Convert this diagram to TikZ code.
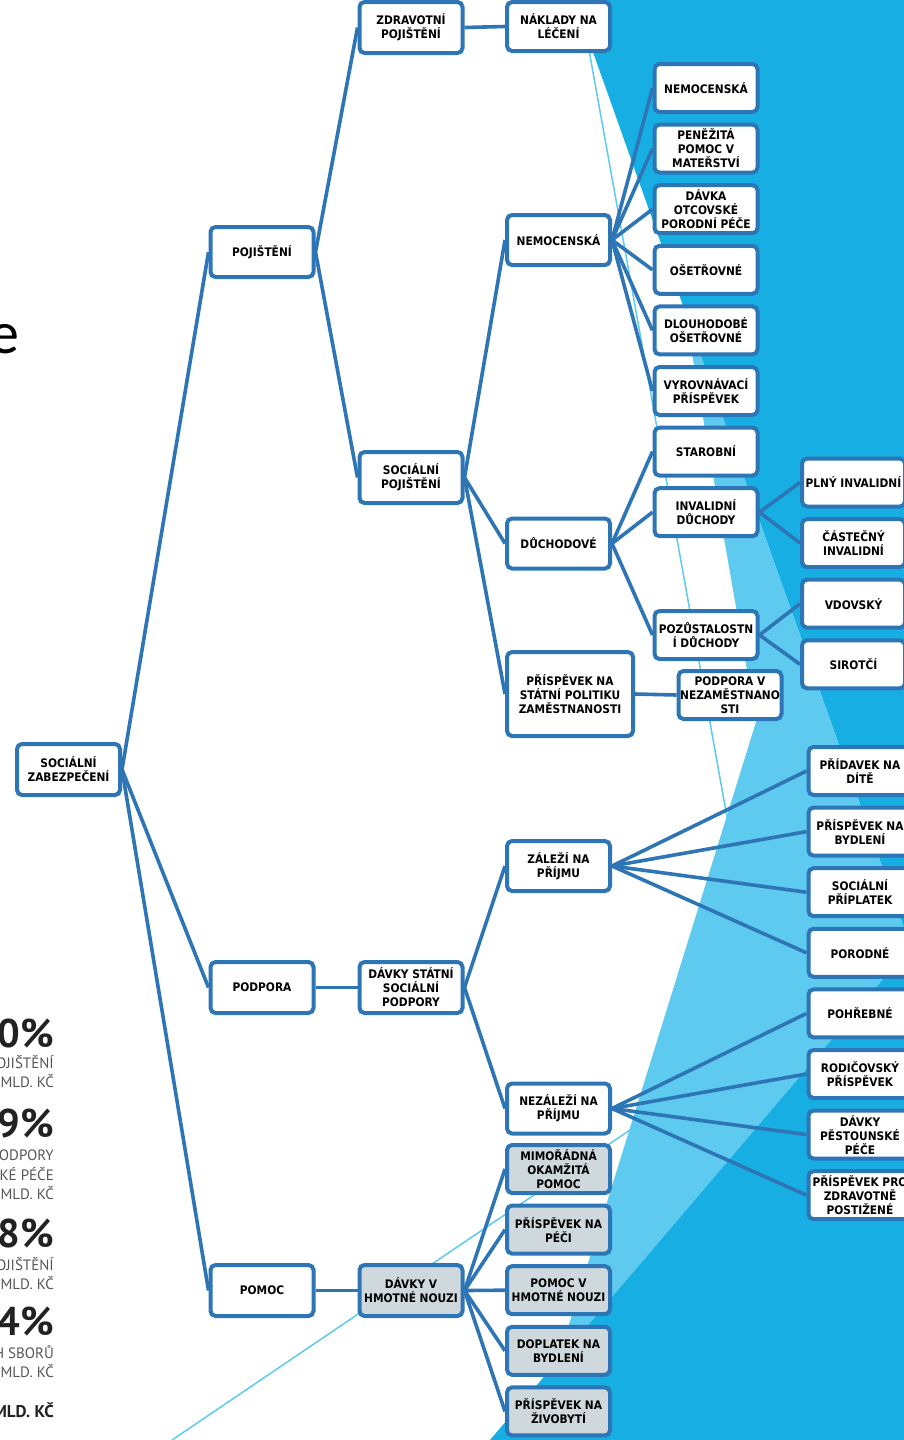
\documentclass[tikz,border=0pt]{standalone}
\usepackage{fontspec}
\usepackage{tikz}
\newfontfamily\boxfont{DejaVu Sans Condensed}
\newfontfamily\slidefont{Carlito}
\newfontfamily\statfont{PT Sans}
\definecolor{BoxBlue}{RGB}{46,117,182}
\definecolor{FacetBlue}{RGB}{23,175,227}
\definecolor{FacetLightBlue}{RGB}{94,202,239}
\definecolor{NeedGray}{RGB}{207,216,221}
\definecolor{StatGray}{RGB}{85,85,85}
\definecolor{StatDark}{RGB}{34,34,34}
\usetikzlibrary{positioning}

\begin{document}
\begin{tikzpicture}[
		x=1pt, y=-1pt,
		node distance=8.6pt,
		entry/.style={draw=BoxBlue, line width=4pt, rounded corners=5pt, fill=white, align=center, inner sep=1pt,
			font=\boxfont\bfseries\fontsize{11.8}{14}\selectfont, minimum width=103pt, minimum height=48pt},
		shaded/.style={entry, fill=NeedGray},
		branch/.style={draw=BoxBlue, line width=3.6pt},
		stat/.style={anchor=base east, inner sep=0pt, text=StatGray, font=\statfont\fontsize{15}{15}\selectfont},
		percent/.style={stat, text=StatDark, font=\statfont\bfseries\fontsize{40}{40}\selectfont}
	]
		\useasboundingbox (0,0) rectangle (904,1440);
		
		\fill[FacetBlue] (574.5,0) -- (904,0) -- (904,928) -- cycle;
		\fill[FacetLightBlue] (684,308) -- (756,722) -- (558,1360) -- (904,954.5) -- (904,928) -- cycle;
		\fill[FacetBlue] (490,1440) -- (904,1440) -- (904,954.5) -- cycle;
		\draw[FacetLightBlue, line width=1.5pt] (580,0) -- (727,817);
		\draw[FacetLightBlue, line width=1.5pt] (172,1440) -- (630,1130);
		
		\node[anchor=base east, inner sep=0pt, font=\slidefont\fontsize{60}{60}\selectfont] (titletail) at (20,353) {e};
		
		\node[percent] (share1) at (54,1047) {0\%};
		\node[stat] (share1a) at (54,1068) {OJIŠTĚNÍ};
		\node[stat] (share1b) at (54,1087) {MLD. KČ};
		\node[percent] (share2) at (54,1137) {9\%};
		\node[stat] (share2a) at (54,1160) {ODPORY};
		\node[stat] (share2b) at (54,1180) {KÉ PÉČE};
		\node[stat] (share2c) at (54,1199) {MLD. KČ};
		\node[percent] (share3) at (54,1247) {8\%};
		\node[stat] (share3a) at (54,1270) {OJIŠTĚNÍ};
		\node[stat] (share3b) at (54,1289) {MLD. KČ};
		\node[percent] (share4) at (54,1335) {4\%};
		\node[stat] (share4a) at (54,1358) {H SBORŮ};
		\node[stat] (share4b) at (54,1377) {MLD. KČ};
		\node[stat, text=StatDark, font=\statfont\bfseries\fontsize{17}{17}\selectfont] (sharetotal) at (54,1417) {MLD. KČ};
		
		\node[entry, minimum height=51pt] (socialsecurity) at (68.5,769.5) {SOCIÁLNÍ\\ZABEZPEČENÍ};
		
		\node[entry, minimum height=50pt] (insurance) at (262,252) {POJIŠTĚNÍ};
		\node[entry, minimum height=51pt] (support) at (262,987.5) {PODPORA};
		\node[entry, minimum height=51pt] (help) at (262,1290.5) {POMOC};
		
		\node[entry, minimum height=51pt] (healthins) at (411,27.5) {ZDRAVOTNÍ\\POJIŠTĚNÍ};
		\node[entry, minimum height=51pt] (socialins) at (411,477.5) {SOCIÁLNÍ\\POJIŠTĚNÍ};
		\node[entry, minimum height=51pt] (statesupport) at (411,987.5) {DÁVKY STÁTNÍ\\SOCIÁLNÍ\\PODPORY};
		\node[shaded, minimum height=51pt] (materialneed) at (411,1290.5) {DÁVKY V\\HMOTNÉ NOUZI};
		
		\node[entry, minimum height=49pt] (treatment) at (558.5,26.5) {NÁKLADY NA\\LÉČENÍ};
		\node[entry, minimum height=50pt] (sickness) at (558.5,240) {NEMOCENSKÁ};
		\node[entry, minimum height=50pt] (pensions) at (558.5,543.5) {DŮCHODOVÉ};
		\node[entry, minimum width=126pt, minimum height=84pt] (employment) at (570,694) {PŘÍSPĚVEK NA\\STÁTNÍ POLITIKU\\ZAMĚSTNANOSTI};
		\node[entry, minimum height=50pt] (incomedep) at (558.5,866) {ZÁLEŽÍ NA\\PŘÍJMU};
		\node[entry, minimum height=50pt] (incomeindep) at (558.5,1108.5) {NEZÁLEŽÍ NA\\PŘÍJMU};
		\node[shaded] (emergency) at (558.5,1169) {MIMOŘÁDNÁ\\OKAMŽITÁ\\POMOC};
		\node[shaded, below=of emergency] (careallow) {PŘÍSPĚVEK NA\\PÉČI};
		\node[shaded, below=of careallow] (needaid) {POMOC V\\HMOTNÉ NOUZI};
		\node[shaded, below=of needaid] (housingsup) {DOPLATEK NA\\BYDLENÍ};
		\node[shaded, below=of housingsup] (livingallow) {PŘÍSPĚVEK NA\\ŽIVOBYTÍ};
		
		\node[entry] (sicknessbenefit) at (706,88) {NEMOCENSKÁ};
		\node[entry, below=of sicknessbenefit] (maternity) {PENĚŽITÁ\\POMOC V\\MATEŘSTVÍ};
		\node[entry, below=of maternity] (paternity) {DÁVKA\\OTCOVSKÉ\\PORODNÍ PÉČE};
		\node[entry, below=of paternity] (carebenefit) {OŠETŘOVNÉ};
		\node[entry, below=of carebenefit] (longcare) {DLOUHODOBÉ\\OŠETŘOVNÉ};
		\node[entry, below=of longcare] (compensation) {VYROVNÁVACÍ\\PŘÍSPĚVEK};
		\node[entry, below=of compensation] (oldage) {STAROBNÍ};
		\node[entry, below=of oldage] (disability) {INVALIDNÍ\\DŮCHODY};
		\node[entry] (survivors) at (706,635) {POZŮSTALOSTN\\Í DŮCHODY};
		\node[entry] (unemployment) at (730,695) {PODPORA V\\NEZAMĚSTNANO\\STI};
		
		\node[entry] (fulldisab) at (853.5,482.5) {PLNÝ INVALIDNÍ};
		\node[entry, below=of fulldisab] (partdisab) {ČÁSTEČNÝ\\INVALIDNÍ};
		\node[entry, below=of partdisab] (widow) {VDOVSKÝ};
		\node[entry, below=of widow] (orphan) {SIROTČÍ};
		
		\node[entry] (childallow) at (860,771) {PŘÍDAVEK NA\\DÍTĚ};
		\node[entry, below=of childallow] (housingallow) {PŘÍSPĚVEK NA\\BYDLENÍ};
		\node[entry, below=of housingallow] (socialextra) {SOCIÁLNÍ\\PŘÍPLATEK};
		\node[entry, below=of socialextra] (birthgrant) {PORODNÉ};
		\node[entry, below=of birthgrant] (funeralgrant) {POHŘEBNÉ};
		\node[entry, below=of funeralgrant] (parental) {RODIČOVSKÝ\\PŘÍSPĚVEK};
		\node[entry, below=of parental] (fostercare) {DÁVKY\\PĚSTOUNSKÉ\\PÉČE};
		\node[entry, below=of fostercare] (healthdisab) {PŘÍSPĚVEK PRO\\ZDRAVOTNĚ\\POSTIŽENÉ};
		
		\path[branch] (socialsecurity.east) edge (insurance.west) edge (support.west) edge (help.west);
		\path[branch] (insurance.east) edge (healthins.west) edge (socialins.west);
		\path[branch] (support.east) edge (statesupport.west);
		\path[branch] (help.east) edge (materialneed.west);
		\path[branch] (healthins.east) edge (treatment.west);
		\path[branch] (socialins.east) edge (sickness.west) edge (pensions.west) edge (employment.west);
		\path[branch] (sickness.east) edge (sicknessbenefit.west) edge (maternity.west) edge (paternity.west)
			edge (carebenefit.west) edge (longcare.west) edge (compensation.west);
		\path[branch] (pensions.east) edge (oldage.west) edge (disability.west) edge (survivors.west);
		\path[branch] (disability.east) edge (fulldisab.west) edge (partdisab.west);
		\path[branch] (survivors.east) edge (widow.west) edge (orphan.west);
		\path[branch] (employment.east) edge (unemployment.west);
		\path[branch] (statesupport.east) edge (incomedep.west) edge (incomeindep.west);
		\path[branch] (incomedep.east) edge (childallow.west) edge (housingallow.west) edge (socialextra.west) edge (birthgrant.west);
		\path[branch] (incomeindep.east) edge (funeralgrant.west) edge (parental.west) edge (fostercare.west) edge (healthdisab.west);
		\path[branch] (materialneed.east) edge (emergency.west) edge (careallow.west) edge (needaid.west)
			edge (housingsup.west) edge (livingallow.west);
		
	\end{tikzpicture}
\end{document}
